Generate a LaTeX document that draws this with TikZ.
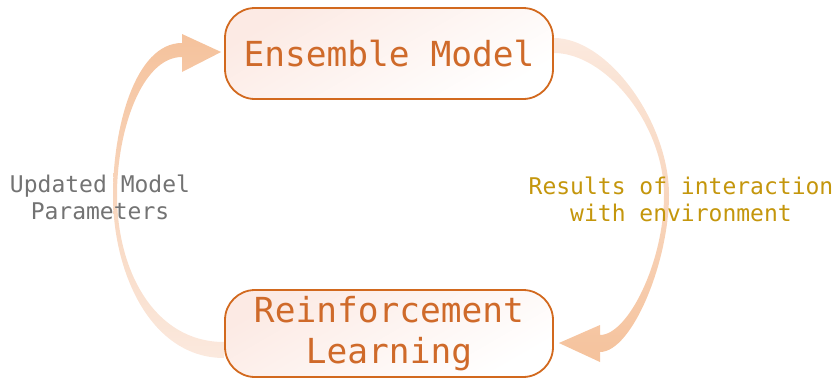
\documentclass[tikz,border=0pt]{standalone}
\usepackage{fontspec}
\newfontfamily\loopfont{DejaVu Sans Mono}
\usetikzlibrary{calc,backgrounds}
\definecolor{boxline}{HTML}{D2691E}
\definecolor{boxtext}{HTML}{CF6A2A}
\definecolor{boxpink}{HTML}{FCEAE4}
\definecolor{arrowdark}{HTML}{F5C29C}
\definecolor{arrowlight}{HTML}{FBE9DE}
\definecolor{labelgray}{HTML}{737373}
\definecolor{labelgold}{HTML}{C4960C}
\tikzset{
  stagebox/.style={draw=boxline, line width=1.8pt, rounded corners=30pt,
    minimum width=328pt, align=center, text=boxtext,
    font=\loopfont\fontsize{34.5}{41.4}\selectfont,
    top color=boxpink, bottom color=white, shading angle=30},
  looplabel/.style={align=center, font=\loopfont\fontsize{23}{27}\selectfont}
}
\begin{document}
\begin{tikzpicture}[x=1pt,y=-1pt]
\useasboundingbox (0,0) rectangle (839,378);
\node[stagebox, minimum height=91pt] (ensemble) at (389,53.5) {Ensemble Model};
\node[stagebox, minimum height=87pt] (rl) at (389,333.5) {Reinforcement\\Learning};
\node[looplabel, text=labelgray] (update) at (100,197) {Updated Model\\Parameters};
\node[looplabel, text=labelgold] (results) at (681,199) {Results of interaction\\with environment};
\begin{scope}[on background layer]
\shade[top color=arrowdark, bottom color=arrowlight]
  ($(rl.west)+(0,24.5)$) .. controls (152,358) and (113,275) .. (113,195)
  .. controls (113,128) and (135,43) .. (182,43) -- (182,34)
  -- ($(ensemble.west)+(-3,-1.5)$) -- (182,72) -- (182,57)
  .. controls (142,57) and (117,130) .. (117,195)
  .. controls (117,270) and (154,342) .. ($(rl.west)+(0,8.5)$) -- cycle;
\shade[top color=arrowlight, bottom color=arrowdark]
  ($(ensemble.east)+(0,-15.5)$) .. controls (608,38) and (669,122) .. (669,195)
  .. controls (669,262) and (632,352) .. (600,352) -- (600,362)
  -- ($(rl.east)+(5,9.5)$) -- (600,325) -- (600,335)
  .. controls (628,335) and (664,262) .. (664,195)
  .. controls (664,125) and (606,53) .. ($(ensemble.east)+(0,-0.5)$) -- cycle;
\end{scope}
\end{tikzpicture}
\end{document}
